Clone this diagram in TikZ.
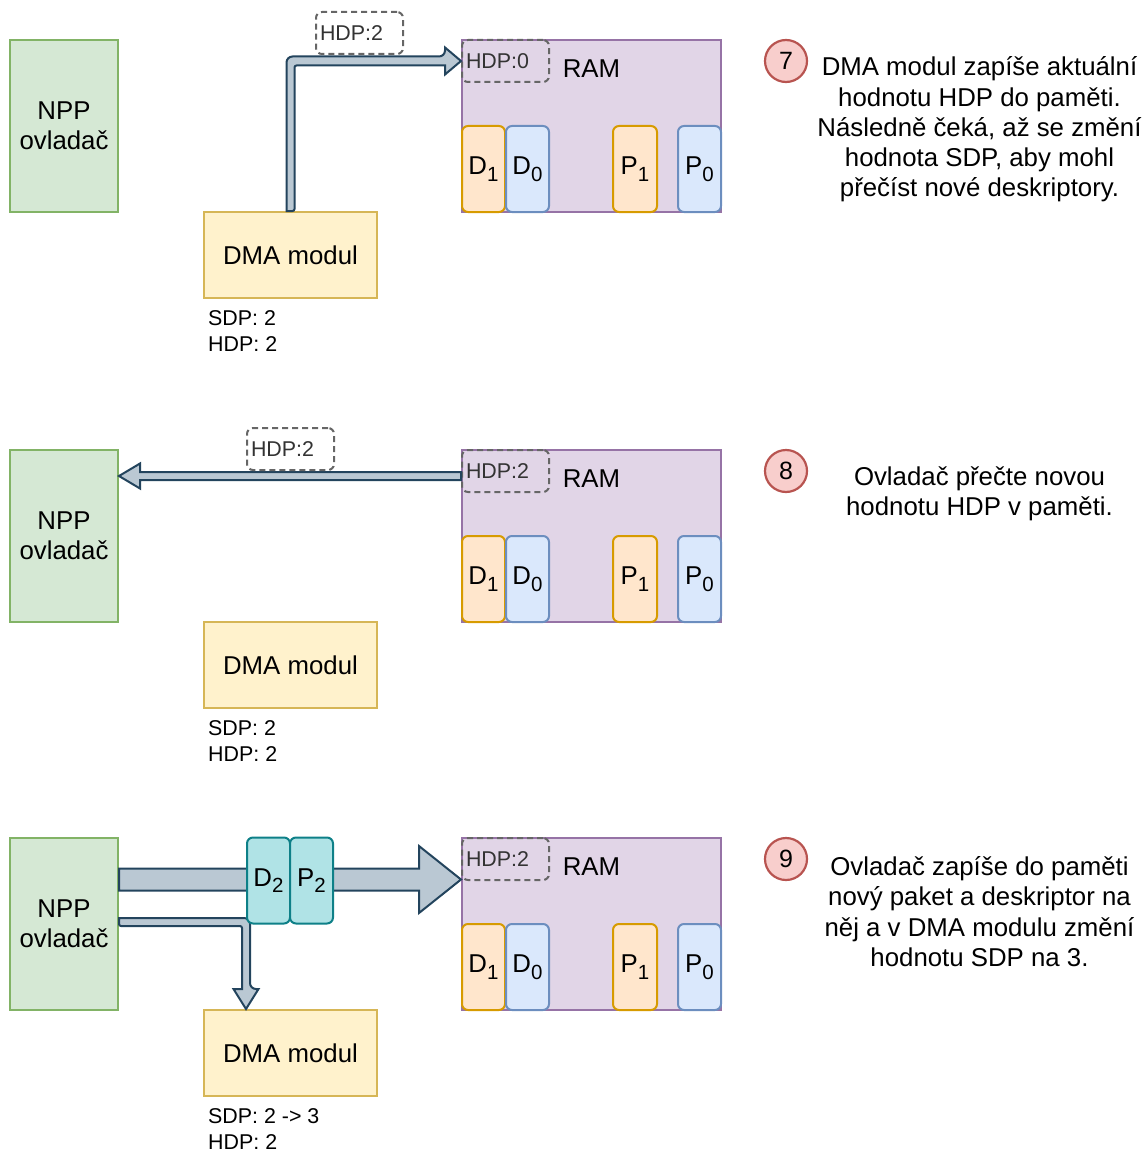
\documentclass[tikz,border=0pt]{standalone}
\usepackage{fontspec}
\setmainfont{Liberation Sans}
\usetikzlibrary{calc}
\definecolor{gfill}{HTML}{D5E8D4}\definecolor{gline}{HTML}{82B366}
\definecolor{yfill}{HTML}{FFF2CC}\definecolor{yline}{HTML}{D6B656}
\definecolor{pfill}{HTML}{E1D5E7}\definecolor{pline}{HTML}{9673A6}
\definecolor{ofill}{HTML}{FFE6CC}\definecolor{oline}{HTML}{D79B00}
\definecolor{bfill}{HTML}{DAE8FC}\definecolor{bline}{HTML}{6C8EBF}
\definecolor{rfill}{HTML}{F8CECC}\definecolor{rline}{HTML}{B85450}
\definecolor{cfill}{HTML}{B0E3E6}\definecolor{cline}{HTML}{0E8088}
\definecolor{afill}{HTML}{BAC8D3}\definecolor{aline}{HTML}{23445D}
\definecolor{dline}{HTML}{666666}\definecolor{dtext}{HTML}{333333}
\newcommand\bigf{\fontsize{25.8}{30.3}\selectfont}
\newcommand\smallf{\fontsize{21.4}{26}\selectfont}
\newcommand\numf{\fontsize{25}{26}\selectfont}
\newcommand\sbs[1]{\raisebox{-6.5pt}{\fontsize{20.5}{20}\selectfont #1}}
\tikzset{
  blk/.style={draw, line width=2pt, inner sep=0pt, align=center, font=\bigf},
  npp/.style={blk, fill=gfill, draw=gline, minimum width=108pt, minimum height=172pt},
  dma/.style={blk, fill=yfill, draw=yline, minimum width=173pt, minimum height=86pt},
  ram/.style={blk, fill=pfill, draw=pline, minimum width=259pt, minimum height=172pt},
  cell/.style={blk, rounded corners=6pt, minimum height=86pt},
  ocell/.style={cell, fill=ofill, draw=oline, minimum width=43pt},
  bcell/.style={cell, fill=bfill, draw=bline, minimum width=43pt},
  ccell/.style={cell, fill=cfill, draw=cline, minimum width=43pt},
  hdpbox/.style={draw=dline, dash pattern=on 6pt off 4pt, line width=2pt, rounded corners=6pt,
    minimum height=42pt, text width=79pt, inner xsep=4pt, inner ysep=0pt, align=left,
    font=\smallf, text=dtext},
  num/.style={circle, draw=rline, fill=rfill, line width=2.2pt, minimum size=42pt, inner sep=0pt, font=\numf},
  desc/.style={align=center, font=\bigf, inner sep=0pt},
  regs/.style={anchor=west, align=left, font=\smallf, inner sep=4pt},
  barrow/.style={fill=afill, draw=aline, line width=2pt, line join=miter},
  lbl/.style={font=\bigf, inner sep=0pt}
}
\newcommand\panelbase[4]{% suffix, yoffset, HDP in RAM, SDP text
\begin{scope}[yshift=-#2pt]
  \node[npp] (npp#1) at (64,126) {NPP\\[0pt]ovladač};
  \node[dma] (dma#1) at (290.5,255) {DMA modul};
  \node[regs] (reg#1) at (204,331) {SDP: #4\\HDP: 2};
  \node[ram] (ram#1) at (591.5,126) {};
  \node[hdpbox] (hdp#1) at (505.5,61) {HDP:#3};
  \node[lbl] (ramt#1) at (591.5,69) {RAM};
  \node[ocell] (d1#1) at (483.5,169) {D\sbs{1}};
  \node[bcell] (d0#1) at (527.5,169) {D\sbs{0}};
  \node[ocell, minimum width=44pt] (p1#1) at (635,169) {P\sbs{1}};
  \node[bcell] (p0#1) at (699.5,169) {P\sbs{0}};
\end{scope}}
\begin{document}
\begin{tikzpicture}[x=1pt,y=-1pt]
\useasboundingbox (0,0) rectangle (1146,1153);
% ---------- panel 7
\panelbase{a}{0}{0}{2}
\coordinate (a1) at (dmaa.north);
\coordinate (t1) at (hdpa.west);
\draw[barrow] ($(a1)+(-4,0)$) [rounded corners=6pt] |- ($(t1)+(-16,-4.5)$) [sharp corners]
  -- ($(t1)+(-16,-13.5)$) -- (t1) -- ($(t1)+(-16,13.5)$) -- ($(t1)+(-16,4.5)$)
  [rounded corners=2pt] -| ($(a1)+(4,0)$) [sharp corners] -- cycle;
\node[hdpbox] (fly1) at (359.5,33) {HDP:2};
\node[num] (n7) at (786,61) {7};
\node[desc] (t7) at (979.5,129.5) {DMA modul zapíše aktuální\\hodnotu HDP do paměti.\\Následně čeká, až se změní\\hodnota SDP, aby mohl\\přečíst nové deskriptory.};
% ---------- panel 8
\panelbase{b}{410}{2}{2}
\path (ramb.north west) ++(0,27) coordinate (s2);
\coordinate (e2) at (nppb.east |- s2);
\draw[barrow] ($(s2)+(0,-4)$) -- ($(e2)+(21,-4)$) -- ($(e2)+(21,-12.5)$) -- (e2)
  -- ($(e2)+(21,12.5)$) -- ($(e2)+(21,4)$) -- ($(s2)+(0,4)$) -- cycle;
\node[hdpbox] (fly2) at (290.5,449) {HDP:2};
\node[num] (n8) at (786,471) {8};
\node[desc] (t8) at (979.5,493.5) {Ovladač přečte novou\\hodnotu HDP v paměti.};
% ---------- panel 9
\panelbase{c}{798}{2}{2 -> 3}
\path (ramc.north west) ++(0,42.5) coordinate (t3);
\coordinate (s3) at (nppc.east |- t3);
\draw[barrow] ($(s3)+(0,-11)$) -- ($(t3)+(-42,-11)$) -- ($(t3)+(-42,-33.5)$) -- (t3)
  -- ($(t3)+(-42,33.5)$) -- ($(t3)+(-42,11)$) -- ($(s3)+(0,11)$) -- cycle;
\path (nppc.north east) ++(0,85) coordinate (b3);
\path (dmac.north west) ++(43,0) coordinate (c3);
\draw[barrow] ($(b3)+(0,-4)$) [rounded corners=6pt] -| ($(c3)+(4,-20)$) [sharp corners]
  -- ($(c3)+(12.5,-20)$) -- (c3) -- ($(c3)+(-12.5,-20)$) -- ($(c3)+(-4,-20)$)
  [rounded corners=2pt] |- ($(b3)+(0,4)$) [sharp corners] -- cycle;
\node[ccell] (d2) at (268.5,880.5) {D\sbs{2}};
\node[ccell] (p2) at (311.5,880.5) {P\sbs{2}};
\node[num] (n9) at (786,859) {9};
\node[desc] (t9) at (979.5,911.5) {Ovladač zapíše do paměti\\nový paket a deskriptor na\\něj a v DMA modulu změní\\hodnotu SDP na 3.};
\end{tikzpicture}
\end{document}
